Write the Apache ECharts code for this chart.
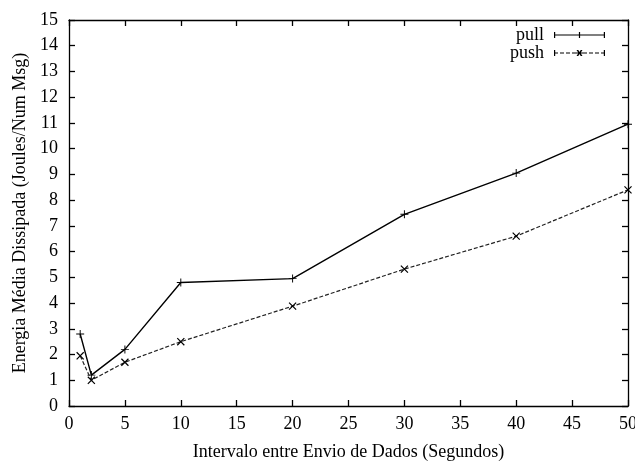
<!DOCTYPE html>
<html><head><meta charset="utf-8">
<script src="https://cdn.jsdelivr.net/npm/echarts@6/dist/echarts.min.js"></script>
<style>html,body{margin:0;padding:0;background:#fff}#c{width:635px;height:462px}</style>
</head><body><div id="c"></div>
<script>
const xValues = [1, 2, 5, 10, 20, 30, 40, 50];
const pullValues = [2.8, 1.2, 2.2, 4.8, 4.95, 7.45, 9.05, 10.95];
const pushValues = [1.95, 1.0, 1.7, 2.5, 3.88, 5.32, 6.6, 8.4];
const seriesNames = ['pull', 'push'];
const xTitle = 'Intervalo entre Envio de Dados (Segundos)';
const yTitle = 'Energia Média Dissipada (Joules/Num Msg)';

const font = 'Liberation Serif';
const plusPath = 'path://M0,4.4h10v1.2h-10z M4.4,0h1.2v10h-1.2z';
const legendPull = 'path://M0,2.5h51v1h-51z M0,0h1.2v6h-1.2z M24.9,0h1.2v6h-1.2z M49.8,0h1.2v6h-1.2z';
const legendPush = 'path://M0,2.5h4v1h-4z M6,2.5h4v1h-4z M12,2.5h4v1h-4z M18,2.5h15v1h-15z M35,2.5h4v1h-4z M41,2.5h4v1h-4z M47,2.5h4v1h-4z M0,0h1.2v6h-1.2z M49.8,0h1.2v6h-1.2z M22.5,0h1.8l1.2,2l1.2,-2h1.8l-2,3l2,3h-1.8l-1.2,-2l-1.2,2h-1.8l2,-3z';

const mk = arr => xValues.map((x, i) => [x, arr[i]]);
const axisCommon = {
  axisLine: { show: true, onZero: false, lineStyle: { color: '#000', width: 1.3 } },
  axisTick: { show: true, inside: true, length: 6, lineStyle: { color: '#000', width: 1.3 } },
  splitLine: { show: false },
};
const chart = echarts.init(document.getElementById('c'));
chart.setOption({
  animation: false,
  backgroundColor: '#fff',
  grid: { left: 69, right: 7, top: 20, bottom: 56, containLabel: false, outerBoundsMode: 'none' },
  legend: {
    orient: 'vertical', right: 25, top: 21, align: 'right',
    itemWidth: 51, itemHeight: 6, itemGap: 0,
    textStyle: { fontFamily: font, fontSize: 18, color: '#000', padding: [0, 5, 0, 0] },
    data: [
      { name: 'pull', icon: legendPull, itemStyle: { color: '#000' } },
      { name: 'push', icon: legendPush, itemStyle: { color: '#000' } }
    ]
  },
  xAxis: [
    Object.assign({ type: 'value', min: 0, max: 50, interval: 5, position: 'bottom',
      name: xTitle, nameLocation: 'middle', nameGap: 37,
      nameTextStyle: { fontFamily: font, fontSize: 18, color: '#000' },
      axisLabel: { fontFamily: font, fontSize: 18, color: '#000', margin: 9 } }, axisCommon),
    Object.assign({ type: 'value', min: 0, max: 50, interval: 5, position: 'top',
      axisLabel: { show: false } }, axisCommon)
  ],
  yAxis: [
    Object.assign({ type: 'value', min: 0, max: 15, interval: 1, position: 'left',
      name: yTitle, nameLocation: 'middle', nameGap: 40,
      nameTextStyle: { fontFamily: font, fontSize: 18, color: '#000' },
      axisLabel: { fontFamily: font, fontSize: 18, color: '#000', margin: 11 } }, axisCommon),
    Object.assign({ type: 'value', min: 0, max: 15, interval: 1, position: 'right',
      axisLabel: { show: false } }, axisCommon)
  ],
  series: [
    { name: seriesNames[0], type: 'line', data: mk(pullValues),
      symbol: plusPath, symbolSize: 8, showAllSymbol: true,
      lineStyle: { color: '#000', width: 1.4, type: 'solid' },
      itemStyle: { color: '#000' } },
    { name: seriesNames[1], type: 'line', data: mk(pushValues),
      symbol: plusPath, symbolSize: 10, symbolRotate: 45, showAllSymbol: true,
      lineStyle: { color: '#222', width: 1.2, type: [4, 2] },
      itemStyle: { color: '#000' } }
  ]
});
</script></body></html>
